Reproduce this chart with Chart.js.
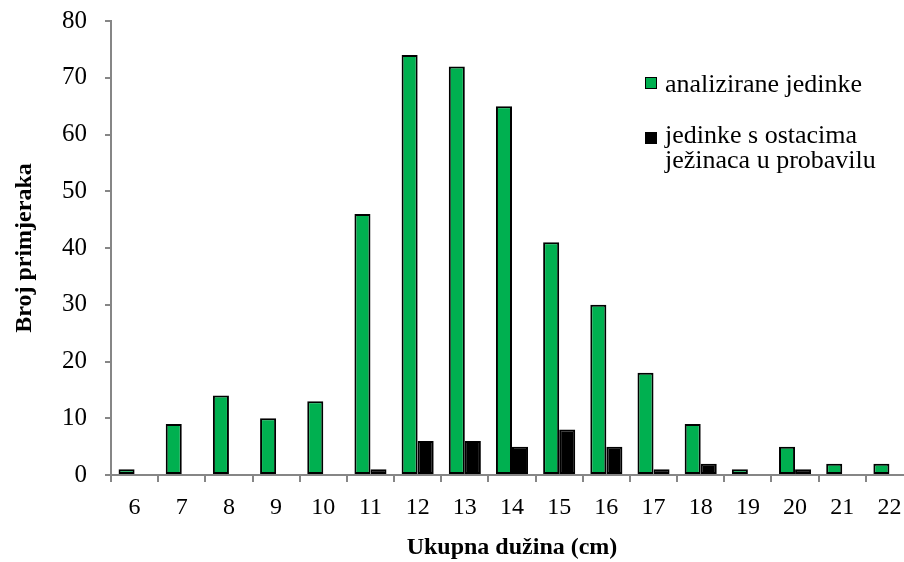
<!DOCTYPE html>
<html>
<head>
<meta charset="utf-8">
<script src="https://cdn.jsdelivr.net/npm/chart.js@4"></script>
<style>
    html, body { margin: 0; padding: 0; background: #fff; overflow: hidden; }
    #wrap { position: relative; width: 913px; height: 562px; }
    .leg { position: absolute; left: 645px; font-family: "Liberation Serif", "Times New Roman", serif; font-size: 26px; line-height: 25px; color: #000; padding-left: 20px; white-space: nowrap; }
    .leg span { position: absolute; left: 0; width: 10px; height: 10px; border: 1px solid #000; }
</style>
</head>
<body>
<div id="wrap">
    <canvas id="barChart"></canvas>
    <div class="leg" id="leg1" style="top:71px"><span></span></div>
    <div class="leg" id="leg2" style="top:122px"><span></span></div>
</div>
<script>
// Dati del grafico
const lengths = ["6", "7", "8", "9", "10", "11", "12", "13", "14", "15", "16", "17", "18", "19", "20", "21", "22"];
const analysed = [1, 9, 14, 10, 13, 46, 74, 72, 65, 41, 30, 18, 9, 1, 5, 2, 2];
const withUrchins = [0, 0, 0, 0, 0, 1, 6, 6, 5, 8, 5, 1, 2, 0, 1, 0, 0];
const yTicks = [0, 10, 20, 30, 40, 50, 60, 70, 80];
const seriesNames = ["analizirane jedinke", ["jedinke s ostacima", "ježinaca u probavilu"]];
const seriesColors = ["#00B050", "#000000"];

const serif = "'Liberation Serif', 'Times New Roman', serif";

document.addEventListener("DOMContentLoaded", function () {
    buildLegend();
    renderChart();
});

// Legenda in HTML (testo su due righe)
function buildLegend() {
    ["leg1", "leg2"].forEach((id, i) => {
        const el = document.getElementById(id);
        const name = seriesNames[i];
        const box = el.querySelector("span");
        box.style.background = seriesColors[i];
        box.style.top = i === 0 ? "6px" : "10px";
        el.insertAdjacentHTML("beforeend", Array.isArray(name) ? name.join("<br>") : name);
    });
}

// niente bordo per le barre a zero
const barBorder = c => (c.raw === 0 ? 0 : 2);

function renderChart() {
    const ctx = document.getElementById("barChart").getContext("2d");

    new Chart(ctx, {
        type: "bar",
        data: {
            labels: lengths,
            datasets: [{
                label: seriesNames[0],
                data: analysed,
                backgroundColor: seriesColors[0],
                borderColor: "#000000",
                borderWidth: barBorder,
                borderSkipped: false
            }, {
                label: seriesNames[1].join(" "),
                data: withUrchins,
                backgroundColor: seriesColors[1],
                borderColor: "#000000",
                borderWidth: barBorder,
                borderSkipped: false
            }]
        },
        options: {
            responsive: true,
            maintainAspectRatio: false,
            animation: false,
            layout: { padding: { top: 21, right: 0, left: 0, bottom: 0 } },
            datasets: {
                bar: { categoryPercentage: 0.68, barPercentage: 1 }
            },
            plugins: {
                legend: { display: false },
                tooltip: { enabled: false }
            },
            scales: {
                x: {
                    grid: { drawOnChartArea: false, offset: true, color: "#868686", tickLength: 7, lineWidth: 2 },
                    border: { color: "#868686", width: 2 },
                    ticks: { color: "#000", padding: 11, font: { family: serif, size: 24 } },
                    title: {
                        display: true,
                        text: "Ukupna dužina (cm)",
                        color: "#000",
                        padding: { top: 0, bottom: 0 },
                        font: { family: serif, size: 24, weight: "bold" }
                    },
                    afterFit: scale => {
                        scale.height = 87;
                        scale.paddingLeft = 0;
                        scale.paddingRight = 0;
                    }
                },
                y: {
                    min: 0,
                    max: 80,
                    afterBuildTicks: scale => { scale.ticks = yTicks.map(v => ({ value: v })); },
                    grid: { drawOnChartArea: false, color: "#868686", tickLength: 6, lineWidth: 2 },
                    border: { color: "#868686", width: 2 },
                    ticks: { color: "#000", padding: 18, font: { family: serif, size: 25 } },
                    title: {
                        display: true,
                        text: "Broj primjeraka",
                        color: "#000",
                        padding: { top: 10, bottom: 0 },
                        font: { family: serif, size: 24, weight: "bold" }
                    },
                    afterFit: scale => {
                        scale.width = 111;
                        scale.paddingTop = 0;
                        scale.paddingBottom = 0;
                    }
                }
            }
        }
    });
}
</script>
</body>
</html>
